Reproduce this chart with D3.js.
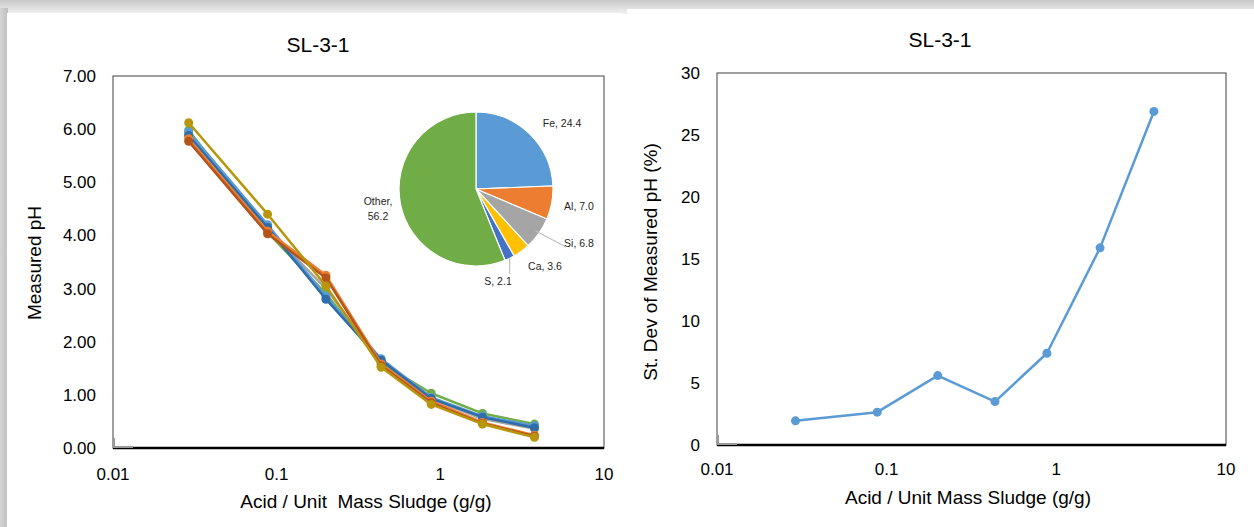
<!DOCTYPE html>
<html>
<head>
<meta charset="utf-8">
<script src="https://cdn.jsdelivr.net/npm/d3@7"></script>
<style>
  body { margin: 0; background: #fff; }
  svg { display: block; font-family: "Liberation Sans", Arial, sans-serif; }
</style>
</head>
<body>
<svg id="chart" width="1254" height="527"></svg>
<script>
// acid dose (g/g) shared by both panels
const doses = [0.029, 0.088, 0.2, 0.435, 0.88, 1.81, 3.76];

// measured pH, one replicate per series
const phSeries = [
  { color: "#A5A5A5", values: [5.92, 4.12, 3.00, 1.62, 0.92, 0.55, 0.36] },
  { color: "#70AD47", values: [5.98, 4.06, 2.90, 1.60, 1.03, 0.65, 0.45] },
  { color: "#5B9BD5", values: [5.95, 4.20, 2.85, 1.68, 0.95, 0.60, 0.42] },
  { color: "#2E6DAA", values: [5.88, 4.15, 2.80, 1.65, 0.93, 0.58, 0.38] },
  { color: "#ED7D31", values: [5.82, 4.08, 3.25, 1.58, 0.88, 0.48, 0.24] },
  { color: "#B5541A", values: [5.77, 4.03, 3.20, 1.55, 0.85, 0.46, 0.22] },
  { color: "#B8960C", values: [6.12, 4.40, 3.05, 1.52, 0.82, 0.45, 0.20] }
];

// standard deviation of measured pH (%)
const stdDev = [1.95, 2.65, 5.6, 3.5, 7.4, 15.9, 26.9];

// composition pie
const elements = ["Fe", "Al", "Si", "Ca", "S", "Other"];
const shares = [24.4, 7.0, 6.8, 3.6, 2.1, 56.2];
const pieColors = ["#5B9BD5", "#ED7D31", "#A5A5A5", "#FFC000", "#4472C4", "#70AD47"];

const xTicks = [0.01, 0.1, 1, 10];
const phTicks = [0, 1, 2, 3, 4, 5, 6, 7];
const sdTicks = [0, 5, 10, 15, 20, 25, 30];

const svg = d3.select("#chart");

/*************************/
/*  Panel backgrounds    */
/*************************/
const defs = svg.append("defs");
const topShade = defs.append("linearGradient").attr("id", "topShade")
  .attr("x1", 0).attr("y1", 0).attr("x2", 0).attr("y2", 1);
topShade.append("stop").attr("offset", "0%").attr("stop-color", "#c8c8c8");
topShade.append("stop").attr("offset", "100%").attr("stop-color", "#f2f2f2");
const leftShade = defs.append("linearGradient").attr("id", "leftShade")
  .attr("x1", 0).attr("y1", 0).attr("x2", 1).attr("y2", 0);
leftShade.append("stop").attr("offset", "0%").attr("stop-color", "#d4d4d4");
leftShade.append("stop").attr("offset", "100%").attr("stop-color", "#bdbdbd");

svg.append("rect").attr("x", 0).attr("y", 0).attr("width", 1254).attr("height", 14)
  .attr("fill", "url(#topShade)");
svg.append("rect").attr("x", 0).attr("y", 8).attr("width", 8).attr("height", 519)
  .attr("fill", "url(#leftShade)");
svg.append("rect").attr("x", 7).attr("y", 13).attr("width", 616).attr("height", 514).attr("fill", "#fff");
svg.append("rect").attr("x", 627).attr("y", 9).attr("width", 627).attr("height", 518).attr("fill", "#fff");

/****************************/
/*  Shared axis helper      */
/****************************/
const drawFrame = (g, x, y, yFormat, yTickValues, xLabelY) => {
  const [x0, x1] = x.range();
  const [y0, y1] = y.range();

  g.append("rect")
    .attr("x", x0).attr("y", y1)
    .attr("width", x1 - x0).attr("height", y0 - y1)
    .attr("fill", "none").attr("stroke", "#404040").attr("stroke-width", 1);

  g.append("line")
    .attr("x1", x0).attr("x2", x1).attr("y1", y0).attr("y2", y0)
    .attr("stroke", "#000").attr("stroke-width", 2.5);

  // faint corner mark as in the source
  g.append("path")
    .attr("d", `M${x0 + 1},${y0 - 10}V${y0 - 1}H${x0 + 20}`)
    .attr("fill", "none").attr("stroke", "#9a9a9a").attr("stroke-width", 2);

  g.selectAll(".ytick")
    .data(yTickValues)
    .join("text")
      .attr("x", x0 - 17)
      .attr("y", d => y(d))
      .attr("dy", "0.35em")
      .attr("text-anchor", "end")
      .attr("font-size", 17)
      .text(yFormat);

  g.selectAll(".xtick")
    .data(xTicks)
    .join("text")
      .attr("x", d => x(d))
      .attr("y", xLabelY)
      .attr("text-anchor", "middle")
      .attr("font-size", 17)
      .text(d => d);
};

const drawSeries = (g, x, y, values, color, width, r) => {
  const line = d3.line().x((_, i) => x(doses[i])).y(d => y(d));
  g.append("path")
    .datum(values)
    .attr("d", line)
    .attr("fill", "none")
    .attr("stroke", color)
    .attr("stroke-width", width)
    .attr("stroke-linejoin", "round");
  g.selectAll(null)
    .data(values)
    .join("circle")
      .attr("cx", (_, i) => x(doses[i]))
      .attr("cy", d => y(d))
      .attr("r", r)
      .attr("fill", color);
};

/****************************/
/*  Left panel: pH curves   */
/****************************/
const left = svg.append("g");
const xL = d3.scaleLog().domain([0.01, 10]).range([113, 604]);
const yL = d3.scaleLinear().domain([0, 7]).range([448, 76]);

drawFrame(left, xL, yL, d => d.toFixed(2), phTicks, 480);
phSeries.forEach(s => drawSeries(left, xL, yL, s.values, s.color, 2.5, 4.5));

left.append("text").attr("x", 318).attr("y", 52).attr("text-anchor", "middle")
  .attr("font-size", 21).text("SL-3-1");
left.append("text")
  .attr("transform", "translate(41,263) rotate(-90)")
  .attr("text-anchor", "middle").attr("font-size", 19).text("Measured pH");
left.append("text").attr("x", 366).attr("y", 508).attr("text-anchor", "middle")
  .attr("font-size", 19).attr("xml:space", "preserve")
  .text("Acid / Unit  Mass Sludge (g/g)");

/****************************/
/*  Composition pie inset   */
/****************************/
const cx = 476, cy = 189, radius = 77;
const pieData = d3.pie().sort(null)(shares);
const arc = d3.arc().innerRadius(0).outerRadius(radius);
const pieG = left.append("g").attr("transform", `translate(${cx},${cy})`);

pieG.selectAll("path")
  .data(pieData)
  .join("path")
    .attr("d", arc)
    .attr("fill", (_, i) => pieColors[i])
    .attr("stroke", "#fff")
    .attr("stroke-width", 1.2);

// label anchors, relative to pie centre
const labelPos = [
  { dx: 86, dy: -62 },
  { dx: 103, dy: 21 },
  { dx: 103, dy: 58 },
  { dx: 69, dy: 81 },
  { dx: 22, dy: 96 },
  { dx: -98, dy: 16 }
];

pieData.forEach((d, i) => {
  const p = labelPos[i];
  const t = pieG.append("text")
    .attr("text-anchor", "middle")
    .attr("font-size", 10.5)
    .attr("fill", "#262626");
  if (elements[i] === "Other") {
    t.append("tspan").attr("x", p.dx).attr("y", p.dy).text(`${elements[i]},`);
    t.append("tspan").attr("x", p.dx).attr("y", p.dy + 15).text(shares[i].toFixed(1));
  } else {
    t.attr("x", p.dx).attr("y", p.dy).text(`${elements[i]}, ${shares[i].toFixed(1)}`);
  }
});

// leader lines for the small slices
const mid = d => (d.startAngle + d.endAngle) / 2;
const edge = (d, r) => [Math.sin(mid(d)) * r, -Math.cos(mid(d)) * r];
const siEdge = edge(pieData[2], radius - 4);
pieG.append("path")
  .attr("d", `M${siEdge[0]},${siEdge[1]}L${90},${58}`)
  .attr("stroke", "#bfbfbf").attr("stroke-width", 1.2).attr("fill", "none");
const sEdge = edge(pieData[4], radius);
pieG.append("path")
  .attr("d", `M${sEdge[0]},${sEdge[1]}V${85}`)
  .attr("stroke", "#bfbfbf").attr("stroke-width", 1.2).attr("fill", "none");

/********************************/
/*  Right panel: st. deviation  */
/********************************/
const right = svg.append("g");
const xR = d3.scaleLog().domain([0.01, 10]).range([717, 1226]);
const yR = d3.scaleLinear().domain([0, 30]).range([445, 73]);

drawFrame(right, xR, yR, d => d, sdTicks, 475);
drawSeries(right, xR, yR, stdDev, "#5B9BD5", 2.5, 4.5);

right.append("text").attr("x", 940).attr("y", 47).attr("text-anchor", "middle")
  .attr("font-size", 21).text("SL-3-1");
right.append("text")
  .attr("transform", "translate(657,262) rotate(-90)")
  .attr("text-anchor", "middle").attr("font-size", 19).text("St. Dev of Measured pH (%)");
right.append("text").attr("x", 968).attr("y", 504).attr("text-anchor", "middle")
  .attr("font-size", 19).text("Acid / Unit Mass Sludge (g/g)");
</script>
</body>
</html>
